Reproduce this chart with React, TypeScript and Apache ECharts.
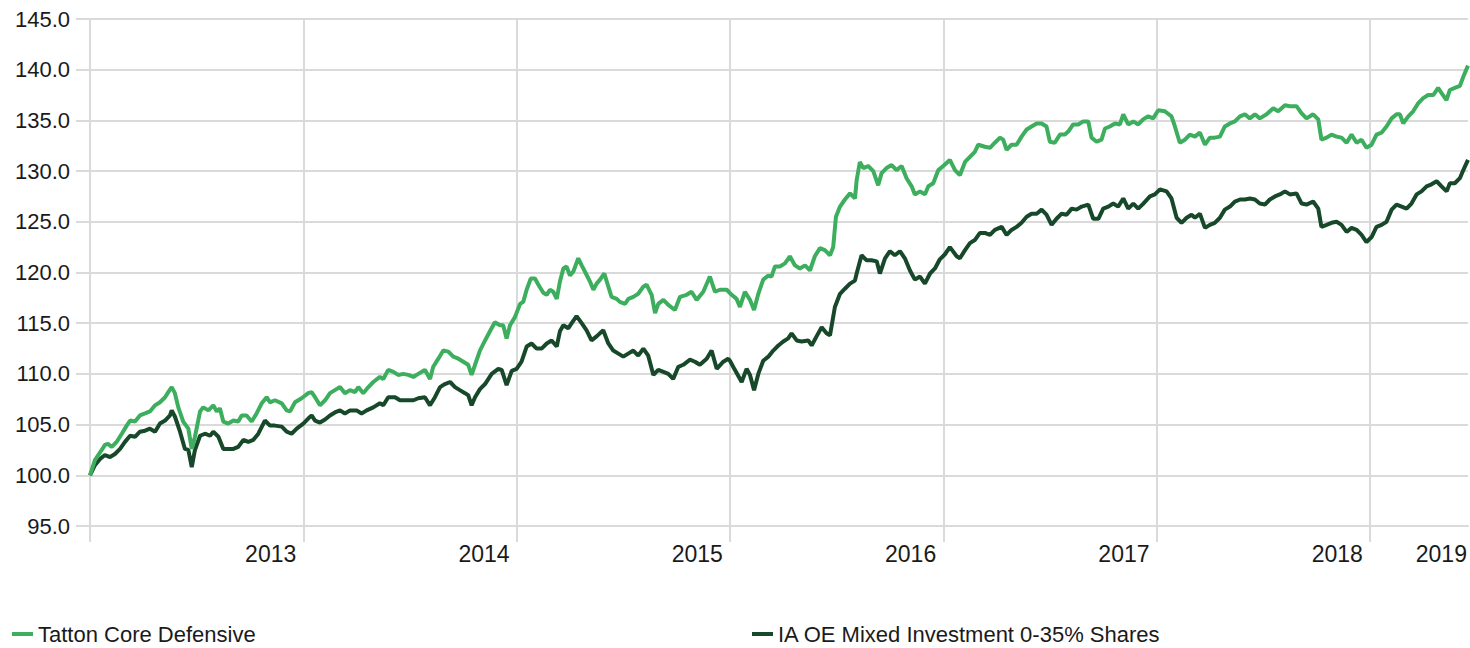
import React, { useEffect, useRef } from "react";
import * as echarts from "echarts";

// Fractional-year positions and index values
const tattonYears = [
  2013.000, 2013.023, 2013.055, 2013.070, 2013.084, 2013.102, 2013.125, 2013.149, 2013.172, 2013.188,
  2013.211, 2013.234, 2013.258, 2013.281, 2013.305, 2013.328, 2013.352, 2013.367, 2013.383, 2013.398,
  2013.414, 2013.437, 2013.461, 2013.477, 2013.492, 2013.516, 2013.531, 2013.555, 2013.578, 2013.594,
  2013.609, 2013.625, 2013.648, 2013.672, 2013.695, 2013.711, 2013.734, 2013.758, 2013.781, 2013.805,
  2013.828, 2013.844, 2013.867, 2013.899, 2013.922, 2013.938, 2013.961, 2013.992, 2014.023, 2014.039,
  2014.055, 2014.078, 2014.102, 2014.125, 2014.148, 2014.172, 2014.195, 2014.219, 2014.242, 2014.258,
  2014.281, 2014.305, 2014.328, 2014.359, 2014.375, 2014.398, 2014.422, 2014.445, 2014.469, 2014.492,
  2014.516, 2014.539, 2014.570, 2014.594, 2014.609, 2014.633, 2014.656, 2014.680, 2014.703, 2014.727,
  2014.750, 2014.773, 2014.789, 2014.805, 2014.828, 2014.852, 2014.875, 2014.898, 2014.922, 2014.937,
  2014.953, 2014.969, 2014.992, 2015.016, 2015.031, 2015.047, 2015.066, 2015.086, 2015.102, 2015.125,
  2015.141, 2015.156, 2015.172, 2015.188, 2015.203, 2015.219, 2015.234, 2015.250, 2015.266, 2015.289,
  2015.305, 2015.320, 2015.344, 2015.360, 2015.375, 2015.391, 2015.411, 2015.430, 2015.445, 2015.469,
  2015.484, 2015.508, 2015.524, 2015.547, 2015.570, 2015.594, 2015.609, 2015.633, 2015.649, 2015.664,
  2015.688, 2015.711, 2015.742, 2015.766, 2015.797, 2015.820, 2015.844, 2015.875, 2015.906, 2015.930,
  2015.953, 2015.985, 2016.008, 2016.031, 2016.047, 2016.070, 2016.094, 2016.113, 2016.133, 2016.156,
  2016.180, 2016.195, 2016.211, 2016.234, 2016.258, 2016.281, 2016.305, 2016.328, 2016.352, 2016.375,
  2016.398, 2016.422, 2016.445, 2016.469, 2016.484, 2016.497, 2016.516, 2016.539, 2016.563, 2016.586,
  2016.594, 2016.609, 2016.625, 2016.648, 2016.672, 2016.695, 2016.711, 2016.734, 2016.758, 2016.781,
  2016.805, 2016.828, 2016.852, 2016.867, 2016.891, 2016.914, 2016.930, 2016.953, 2016.977, 2017.000,
  2017.031, 2017.055, 2017.078, 2017.102, 2017.125, 2017.148, 2017.164, 2017.195, 2017.219, 2017.242,
  2017.266, 2017.281, 2017.297, 2017.320, 2017.344, 2017.367, 2017.391, 2017.414, 2017.438, 2017.461,
  2017.484, 2017.500, 2017.523, 2017.547, 2017.570, 2017.586, 2017.609, 2017.633, 2017.656, 2017.680,
  2017.695, 2017.719, 2017.742, 2017.758, 2017.781, 2017.805, 2017.828, 2017.844, 2017.867, 2017.891,
  2017.914, 2017.937, 2017.961, 2017.984, 2018.008, 2018.039, 2018.070, 2018.086, 2018.109, 2018.133,
  2018.156, 2018.180, 2018.203, 2018.227, 2018.250, 2018.273, 2018.297, 2018.320, 2018.344, 2018.367,
  2018.391, 2018.414, 2018.437, 2018.461, 2018.484, 2018.516, 2018.547, 2018.570, 2018.602, 2018.625,
  2018.656, 2018.680, 2018.703, 2018.734, 2018.758, 2018.773, 2018.797, 2018.820, 2018.844, 2018.867,
  2018.891, 2018.914, 2018.938, 2018.961, 2018.984, 2019.008, 2019.031, 2019.055, 2019.078, 2019.102,
  2019.125, 2019.141, 2019.156, 2019.180, 2019.203, 2019.227, 2019.250, 2019.273, 2019.297, 2019.320,
  2019.336, 2019.359, 2019.375, 2019.398, 2019.422, 2019.438, 2019.460,
];
const tattonValues = [
  100.0, 101.5, 102.5, 103.0, 103.1, 102.8, 103.3, 104.1, 104.9, 105.4,
  105.3, 105.9, 106.1, 106.3, 106.9, 107.2, 107.7, 108.2, 108.7, 108.1,
  106.7, 105.3, 104.6, 102.6, 103.8, 106.3, 106.7, 106.4, 106.9, 106.3,
  106.6, 105.3, 105.1, 105.4, 105.3, 105.9, 105.9, 105.3, 106.1, 107.1,
  107.7, 107.2, 107.4, 107.1, 106.4, 106.3, 107.2, 107.6, 108.1, 108.2,
  107.7, 106.9, 107.4, 108.1, 108.4, 108.7, 108.1, 108.4, 108.2, 108.7,
  108.1, 108.7, 109.2, 109.7, 109.5, 110.4, 110.2, 109.9, 110.0, 109.9,
  109.7, 110.0, 110.4, 109.5, 110.7, 111.5, 112.3, 112.2, 111.7, 111.5,
  111.2, 110.9, 109.9, 110.9, 112.3, 113.3, 114.2, 115.1, 114.8, 114.8,
  113.5, 114.8, 115.6, 116.9, 117.1, 118.3, 119.4, 119.4, 118.8, 118.0,
  117.8, 118.3, 118.1, 117.4, 119.1, 120.4, 120.6, 119.7, 120.1, 121.4,
  120.7, 120.1, 119.1, 118.3, 118.9, 119.3, 119.9, 118.6, 117.6, 117.4,
  117.1, 116.9, 117.4, 117.6, 117.9, 118.6, 118.8, 117.8, 116.0, 116.9,
  117.3, 116.8, 116.3, 117.6, 117.8, 118.1, 117.3, 118.1, 119.6, 118.1,
  118.3, 118.3, 117.8, 117.4, 116.6, 118.1, 117.3, 116.3, 117.9, 119.3,
  119.7, 119.6, 120.6, 120.6, 120.9, 121.6, 120.7, 120.4, 120.7, 120.2,
  121.6, 122.4, 122.2, 121.7, 122.5, 125.5, 126.5, 127.2, 127.8, 127.3,
  129.1, 130.9, 130.3, 130.5, 130.0, 128.6, 129.8, 130.3, 130.6, 130.1,
  130.5, 129.3, 128.5, 127.7, 128.0, 127.7, 128.5, 128.8, 130.1, 130.5,
  131.1, 130.1, 129.6, 130.9, 131.4, 131.9, 132.6, 132.4, 132.3, 132.8,
  133.3, 133.1, 132.1, 132.6, 132.6, 133.4, 134.1, 134.4, 134.7, 134.7,
  134.4, 132.9, 132.8, 133.6, 133.6, 133.9, 134.6, 134.6, 134.9, 134.9,
  133.3, 132.9, 133.1, 134.2, 134.4, 134.7, 134.6, 135.6, 134.6, 134.9,
  134.6, 135.1, 135.4, 135.2, 136.0, 135.9, 135.4, 134.4, 132.8, 133.1,
  133.6, 133.4, 133.8, 132.6, 133.3, 133.3, 133.4, 134.4, 134.7, 134.9,
  135.4, 135.6, 135.2, 135.6, 135.2, 135.6, 136.2, 135.9, 136.5, 136.4,
  136.4, 135.7, 135.2, 135.6, 135.1, 133.1, 133.3, 133.6, 133.4, 133.3,
  132.8, 133.6, 132.8, 133.1, 132.3, 132.6, 133.6, 133.8, 134.4, 135.2,
  135.6, 135.6, 134.7, 135.4, 135.9, 136.7, 137.2, 137.5, 137.5, 138.2,
  137.7, 137.0, 138.0, 138.2, 138.4, 139.3, 140.4,
];

const iaYears = [
  2013.000, 2013.023, 2013.047, 2013.070, 2013.094, 2013.117, 2013.141, 2013.164, 2013.188, 2013.211,
  2013.234, 2013.258, 2013.281, 2013.305, 2013.328, 2013.352, 2013.375, 2013.383, 2013.398, 2013.422,
  2013.445, 2013.461, 2013.477, 2013.492, 2013.516, 2013.539, 2013.563, 2013.578, 2013.602, 2013.625,
  2013.648, 2013.672, 2013.695, 2013.719, 2013.742, 2013.766, 2013.789, 2013.820, 2013.844, 2013.867,
  2013.899, 2013.922, 2013.945, 2013.969, 2014.000, 2014.023, 2014.039, 2014.055, 2014.078, 2014.102,
  2014.125, 2014.148, 2014.172, 2014.195, 2014.219, 2014.250, 2014.273, 2014.297, 2014.328, 2014.359,
  2014.375, 2014.398, 2014.430, 2014.453, 2014.484, 2014.516, 2014.539, 2014.570, 2014.594, 2014.617,
  2014.641, 2014.664, 2014.688, 2014.711, 2014.734, 2014.758, 2014.773, 2014.789, 2014.805, 2014.828,
  2014.852, 2014.883, 2014.914, 2014.930, 2014.953, 2014.977, 2015.000, 2015.023, 2015.047, 2015.070,
  2015.094, 2015.117, 2015.141, 2015.164, 2015.188, 2015.203, 2015.219, 2015.242, 2015.258, 2015.281,
  2015.305, 2015.328, 2015.351, 2015.375, 2015.406, 2015.430, 2015.453, 2015.477, 2015.500, 2015.523,
  2015.547, 2015.570, 2015.594, 2015.617, 2015.641, 2015.664, 2015.688, 2015.711, 2015.734, 2015.758,
  2015.781, 2015.813, 2015.836, 2015.859, 2015.891, 2015.914, 2015.938, 2015.969, 2015.992, 2016.000,
  2016.023, 2016.055, 2016.078, 2016.094, 2016.113, 2016.133, 2016.156, 2016.180, 2016.203, 2016.227,
  2016.250, 2016.273, 2016.289, 2016.313, 2016.336, 2016.367, 2016.383, 2016.406, 2016.430, 2016.453,
  2016.469, 2016.492, 2016.516, 2016.539, 2016.563, 2016.586, 2016.594, 2016.617, 2016.641, 2016.664,
  2016.688, 2016.703, 2016.727, 2016.750, 2016.773, 2016.797, 2016.820, 2016.844, 2016.867, 2016.891,
  2016.914, 2016.938, 2016.961, 2016.984, 2017.008, 2017.031, 2017.063, 2017.078, 2017.102, 2017.125,
  2017.148, 2017.172, 2017.195, 2017.219, 2017.242, 2017.274, 2017.297, 2017.320, 2017.344, 2017.367,
  2017.391, 2017.414, 2017.438, 2017.461, 2017.484, 2017.508, 2017.531, 2017.555, 2017.578, 2017.602,
  2017.625, 2017.649, 2017.680, 2017.703, 2017.727, 2017.750, 2017.774, 2017.797, 2017.820, 2017.844,
  2017.867, 2017.891, 2017.914, 2017.938, 2017.969, 2017.992, 2018.016, 2018.047, 2018.070, 2018.094,
  2018.117, 2018.141, 2018.164, 2018.180, 2018.203, 2018.227, 2018.250, 2018.273, 2018.297, 2018.320,
  2018.344, 2018.367, 2018.391, 2018.414, 2018.438, 2018.461, 2018.484, 2018.508, 2018.531, 2018.555,
  2018.578, 2018.602, 2018.625, 2018.656, 2018.680, 2018.703, 2018.734, 2018.758, 2018.773, 2018.797,
  2018.820, 2018.844, 2018.867, 2018.891, 2018.914, 2018.938, 2018.961, 2018.984, 2019.008, 2019.031,
  2019.055, 2019.078, 2019.102, 2019.125, 2019.149, 2019.172, 2019.195, 2019.219, 2019.242, 2019.266,
  2019.289, 2019.313, 2019.336, 2019.360, 2019.375, 2019.398, 2019.422, 2019.438, 2019.460,
];
const iaValues = [
  100.0, 101.0, 101.6, 102.0, 101.8, 102.1, 102.6, 103.3, 103.9, 103.8,
  104.3, 104.4, 104.6, 104.3, 105.1, 105.4, 105.9, 106.4, 105.8, 104.3,
  102.6, 102.5, 100.8, 102.5, 103.9, 104.1, 103.9, 104.3, 103.8, 102.6,
  102.6, 102.6, 102.8, 103.5, 103.3, 103.5, 104.1, 105.4, 104.9, 104.9,
  104.8, 104.3, 104.1, 104.6, 105.1, 105.6, 105.9, 105.4, 105.2, 105.5,
  105.9, 106.2, 106.4, 106.1, 106.4, 106.4, 106.1, 106.4, 106.7, 107.1,
  106.9, 107.7, 107.7, 107.4, 107.4, 107.4, 107.6, 107.7, 106.9, 107.7,
  108.7, 109.0, 109.2, 108.7, 108.4, 108.1, 107.9, 106.9, 107.7, 108.5,
  109.0, 110.0, 110.5, 110.4, 108.9, 110.3, 110.5, 111.2, 112.7, 113.0,
  112.5, 112.5, 113.0, 113.3, 112.7, 114.2, 114.8, 114.5, 115.0, 115.7,
  115.0, 114.3, 113.3, 113.7, 114.3, 113.0, 112.3, 112.0, 111.7, 112.0,
  112.3, 111.8, 112.5, 111.8, 109.9, 110.4, 110.2, 110.0, 109.5, 110.7,
  110.9, 111.4, 111.2, 110.9, 111.5, 112.3, 110.5, 111.2, 111.5, 111.3,
  110.4, 109.2, 110.5, 109.9, 108.4, 110.0, 111.3, 111.7, 112.3, 112.8,
  113.2, 113.5, 114.0, 113.3, 113.2, 113.3, 112.8, 113.7, 114.6, 114.0,
  113.8, 116.6, 117.9, 118.4, 118.9, 119.2, 119.9, 121.7, 121.2, 121.2,
  121.1, 119.9, 121.4, 122.1, 121.7, 122.1, 121.4, 120.2, 119.3, 119.6,
  118.9, 119.9, 120.4, 121.3, 121.8, 122.5, 121.6, 121.4, 122.2, 122.9,
  123.2, 123.9, 123.9, 123.7, 124.2, 124.5, 123.7, 124.2, 124.5, 124.9,
  125.5, 125.8, 125.8, 126.2, 125.7, 124.7, 125.3, 125.8, 125.7, 126.3,
  126.2, 126.5, 126.7, 125.3, 125.3, 126.3, 126.5, 126.8, 126.5, 127.3,
  126.3, 126.8, 126.3, 126.8, 127.5, 127.7, 128.2, 128.0, 127.3, 125.4,
  124.9, 125.4, 125.7, 125.4, 125.8, 124.4, 124.7, 124.9, 125.4, 126.2,
  126.5, 127.0, 127.2, 127.2, 127.3, 127.2, 126.8, 126.7, 127.2, 127.5,
  127.7, 128.0, 127.7, 127.8, 126.8, 126.7, 127.0, 126.3, 124.5, 124.7,
  124.9, 125.0, 124.7, 124.0, 124.4, 124.2, 123.7, 123.0, 123.5, 124.5,
  124.7, 125.0, 126.2, 126.7, 126.5, 126.3, 126.8, 127.7, 128.0, 128.5,
  128.7, 129.0, 128.5, 128.0, 128.8, 128.8, 129.3, 130.1, 131.1,
];

const seriesNames = ["Tatton Core Defensive", "IA OE Mixed Investment 0-35% Shares"];
const seriesColors = ["#3DAE5E", "#17482A"];

const xMin = 2013;
const xMax = 2019.46;
const yearTicks = [2013, 2014, 2015, 2016, 2017, 2018, 2019];
// year labels sit at the right end of each year's span
const yearLabelPositions = [2013.967, 2014.967, 2015.967, 2016.967, 2017.967, 2018.967, 2019.455];

const GRID_COLOR = "#dadada";
const TEXT_COLOR = "#1a1a1a";
const FONT = "'Liberation Sans', Arial, sans-serif";

export default function App() {
  const ref = useRef<HTMLDivElement>(null);

  useEffect(() => {
    if (!ref.current) return;
    const chart = echarts.init(ref.current, undefined, { renderer: "svg" });
    const pairs = (xs: number[], ys: number[]) => xs.map((x, i) => [x, ys[i]]);
    const legendBase = {
      top: 623,
      padding: 0,
      itemWidth: 21,
      itemHeight: 4,
      icon: "rect",
      textStyle: { fontSize: 22, lineHeight: 19, color: TEXT_COLOR, fontFamily: FONT },
    };
    chart.setOption({
      animation: false,
      backgroundColor: "#ffffff",
      textStyle: { fontFamily: FONT },
      grid: { left: 90, right: 2, top: 19, bottom: 122, containLabel: false },
      legend: [
        { ...legendBase, data: [seriesNames[0]], left: 12 },
        { ...legendBase, data: [seriesNames[1]], left: 752 },
      ],
      xAxis: {
        type: "value",
        min: xMin,
        max: xMax,
        interval: 1,
        axisLine: { show: true, lineStyle: { color: GRID_COLOR, width: 2 } },
        axisTick: {
          show: true,
          length: 16,
          customValues: yearTicks,
          lineStyle: { color: GRID_COLOR, width: 2 },
        },
        splitLine: {
          show: true,
          lineStyle: {
            color: [GRID_COLOR, GRID_COLOR, GRID_COLOR, GRID_COLOR, GRID_COLOR, GRID_COLOR, GRID_COLOR, "rgba(0,0,0,0)"],
            width: 2,
          },
        },
        axisLabel: {
          customValues: yearLabelPositions,
          formatter: (v: number) => String(Math.floor(v)),
          align: "right",
          margin: 16,
          fontSize: 23,
          color: TEXT_COLOR,
          fontFamily: FONT,
        },
      },
      yAxis: {
        type: "value",
        min: 95,
        max: 145,
        interval: 5,
        axisLine: { show: true, lineStyle: { color: GRID_COLOR, width: 2 } },
        axisTick: { show: true, length: 14, lineStyle: { color: GRID_COLOR, width: 2 } },
        splitLine: { show: true, lineStyle: { color: GRID_COLOR, width: 2 } },
        axisLabel: {
          formatter: (v: number) => v.toFixed(1),
          margin: 20,
          fontSize: 22,
          color: TEXT_COLOR,
          fontFamily: FONT,
        },
      },
      series: [
        {
          name: seriesNames[0],
          type: "line",
          data: pairs(tattonYears, tattonValues),
          showSymbol: false,
          symbol: "none",
          lineStyle: { color: seriesColors[0], width: 4 },
          itemStyle: { color: seriesColors[0] },
          z: 3,
        },
        {
          name: seriesNames[1],
          type: "line",
          data: pairs(iaYears, iaValues),
          showSymbol: false,
          symbol: "none",
          lineStyle: { color: seriesColors[1], width: 4 },
          itemStyle: { color: seriesColors[1] },
          z: 2,
        },
      ],
    });
    return () => chart.dispose();
  }, []);

  return (
    <div
      ref={ref}
      style={{ position: "absolute", left: 0, top: 0, width: 1470, height: 648, background: "#fff" }}
    />
  );
}
